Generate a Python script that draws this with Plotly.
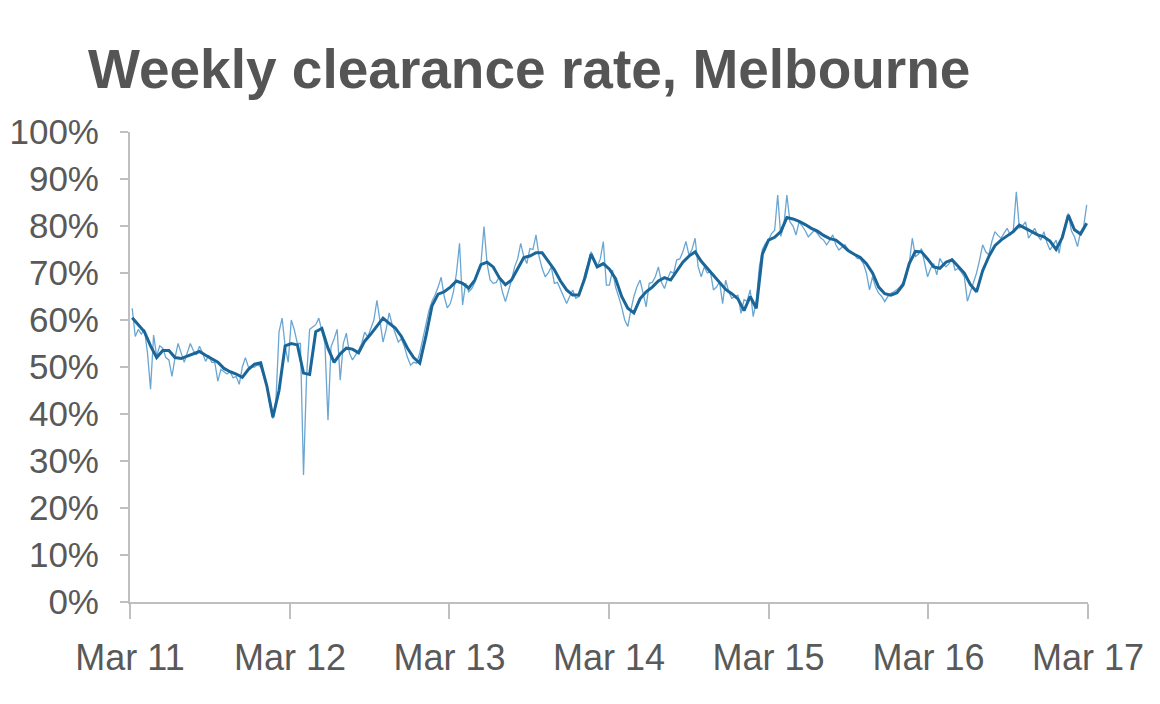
import pandas as pd
import plotly.graph_objects as go

# Weekly clearance rate (%), one value per week from early Mar 2011
weekly_y1 = [62.5, 56.5, 58, 57, 58, 53, 45.3, 56.8, 52.3, 54.5, 54, 52, 51.5, 48, 52, 55, 53, 51, 53, 55,
             53.5, 52.6, 54.4, 53, 51.2, 52.5, 51, 51, 47, 49.5, 49, 48.5, 49, 47.7, 48, 46.3, 50, 52, 50, 50,
             50, 50.5, 50, 48, 46, 42, 39, 43, 57.5, 60.4, 54.4, 51]
weekly_y2 = [60, 57.9, 55, 55, 27, 48, 58, 58.5, 59, 60.4, 58, 55, 38.7, 54.3, 56, 58, 47.2, 55, 57.2, 53,
             51.5, 52.5, 53.6, 55, 57.4, 56.4, 58, 60, 64.2, 60, 55.3, 58, 61.5, 59, 57, 55.3, 56, 54.3, 52, 50.4,
             51, 50.8, 53, 56, 59.3, 62, 64, 65.3, 67, 69.1, 65, 62.6]
weekly_y3 = [63.5, 66, 70, 76.3, 63.2, 67.8, 66, 66.7, 68, 70.6, 72, 79.9, 72, 68.5, 67.8, 68, 69.2, 66, 63.9, 66,
             68.5, 71.3, 73, 76.3, 73.5, 72, 75.2, 75, 78.1, 73.5, 71, 69.2, 70, 71.3, 67.8, 68, 66.4, 65, 63.5, 65,
             66.4, 64.6, 65, 67, 69.9, 72, 74.5, 73, 71.3, 73, 76.7, 67.4]
weekly_y4 = [67.4, 70.6, 67, 65, 62.8, 60, 58.6, 62.1, 65, 67.1, 68.5, 65.7, 62.8, 67.8, 68, 69.2, 71.3, 68, 66.7, 68.8,
             70.3, 70, 72.8, 73, 74.5, 76.7, 73.8, 75, 77.4, 71.3, 69.2, 71.3, 70, 70.3, 66.4, 67, 68.1, 63.5, 68.5, 66,
             64.6, 65, 65.3, 61.4, 64.3, 64, 66.4, 60.7, 64, 71.3, 75, 76.3]
weekly_y5 = [77, 78.4, 79.1, 86.6, 77.8, 80.1, 86.6, 80.9, 80, 78.1, 80.9, 80, 79, 77.7, 78.5, 79.1, 78.4, 77.5, 77, 76,
             77, 78.1, 76, 74.9, 75.5, 76, 75, 74.2, 74, 73.1, 73, 72, 70, 66.4, 69.2, 67, 65.7, 65, 63.9, 65,
             65.7, 66, 66.5, 67.1, 68, 69.2, 72, 77.4, 73.5, 74, 75.2, 72]
weekly_y6 = [69.2, 71, 72, 69.6, 73.1, 72, 71.3, 72, 73.1, 70.6, 71, 70.2, 69.2, 64, 66, 67.8, 70, 72.8, 76, 74.5,
             73.9, 76.7, 78.8, 78, 77.4, 78.5, 79.5, 78.1, 79, 87.3, 79.5, 80, 80.9, 77.4, 78.5, 79.5, 78, 77, 78.8, 76.5,
             74.9, 76, 77, 74.2, 78, 80.2, 82.7, 79, 77.7, 75.6, 78.8, 79.9, 84.5]
weekly = weekly_y1 + weekly_y2 + weekly_y3 + weekly_y4 + weekly_y5 + weekly_y6

# Smoothed (trend) clearance rate (%), one value every two weeks
trend_y1 = [60.5, 59, 57.5, 54.5, 52, 53.5, 53.5, 52, 51.8, 52.3, 52.8, 53.3, 52.5, 51.8, 51, 49.7, 49, 48.5, 47.8, 49.5,
            50.6, 50.9, 46, 39.3, 45, 54.5]
trend_y2 = [55, 54.7, 48.7, 48.4, 57.5, 58.2, 54, 51, 52.8, 54, 53.8, 53, 55.5, 57, 58.8, 60.4, 59.3, 58.3, 56.5, 54,
            52, 50.8, 56.5, 63, 65.5, 66]
trend_y3 = [67, 68.3, 67.8, 66.8, 68.5, 71.8, 72.3, 71.3, 69, 67.5, 68.5, 70.8, 73.3, 73.6, 74.3, 74.3, 72.5, 70.7, 68.3, 66.4,
            65.3, 65.3, 69, 74, 71.3, 72]
trend_y4 = [70.8, 68.8, 65, 62.5, 61.5, 64.5, 66, 67, 68.3, 69, 68.5, 70.3, 72.3, 73.6, 74.5, 72.5, 71, 69.5, 68, 66.5,
            65.6, 64.5, 62, 65, 62.5, 74]
trend_y5 = [77, 77.6, 78.8, 81.8, 81.5, 81, 80.3, 79.5, 78.9, 78, 77.3, 77, 76, 74.8, 74, 73.3, 72, 70, 67, 65.6,
            65.3, 65.8, 67.5, 72, 74.6, 74.5]
trend_y6 = [73, 71.3, 71, 72.3, 72.8, 71.5, 70, 67.5, 66, 70.5, 73.5, 75.8, 77, 77.9, 78.8, 80.2, 79.5, 78.8, 78.1, 77.7,
            76.8, 75, 77.5, 82.3, 79.2, 78.3, 80.6]
trend = trend_y1 + trend_y2 + trend_y3 + trend_y4 + trend_y5 + trend_y6

tick_dates = ["2011-03-01", "2012-03-01", "2013-03-01", "2014-03-01", "2015-03-01", "2016-03-01", "2017-03-01"]
tick_labels = ["Mar 11", "Mar 12", "Mar 13", "Mar 14", "Mar 15", "Mar 16", "Mar 17"]
y_ticks = [0, 10, 20, 30, 40, 50, 60, 70, 80, 90, 100]
y_labels = [f"{v}%" for v in y_ticks]

weekly_dates = pd.date_range("2011-03-06", periods=len(weekly), freq="7D")
trend_dates = pd.date_range("2011-03-06", periods=len(trend), freq="14D")

FONT = "Liberation Sans, Arial, sans-serif"
GREY = "#595959"
AXIS = "#bfbfbf"

fig = go.Figure()
fig.add_trace(go.Scatter(x=weekly_dates, y=weekly, mode="lines",
                         line=dict(color="#6aa6d2", width=1.3), name="Weekly", showlegend=False))
fig.add_trace(go.Scatter(x=trend_dates, y=trend, mode="lines",
                         line=dict(color="#1b6699", width=3), name="Trend", showlegend=False))

fig.update_layout(
    width=1160, height=704,
    margin=dict(l=130, r=72, t=132, b=102, autoexpand=False),
    paper_bgcolor="white", plot_bgcolor="white",
    font=dict(family=FONT, color=GREY),
    title=dict(text="<b>Weekly clearance rate, Melbourne</b>",
               font=dict(family=FONT, size=55, color="#555555"),
               xref="container", yref="container", x=88/1160, xanchor="left",
               y=1 - 69/704, yanchor="middle"),
)
fig.update_xaxes(
    type="date", range=["2011-03-01", "2017-03-01"],
    tickvals=tick_dates, ticktext=tick_labels,
    showgrid=False, zeroline=False, automargin=False,
    showline=True, linecolor=AXIS, linewidth=2,
    ticks="outside", ticklen=15, tickcolor=AXIS, tickwidth=1.5,
    tickfont=dict(family=FONT, size=36, color=GREY), ticklabelstandoff=8,
)
fig.update_yaxes(
    range=[0, 100], tickvals=y_ticks, ticktext=y_labels,
    showgrid=False, zeroline=False, automargin=False,
    showline=True, linecolor=AXIS, linewidth=2,
    ticks="outside", ticklen=8, tickcolor=AXIS, tickwidth=1.5,
    tickfont=dict(family=FONT, size=35, color=GREY), ticklabelstandoff=14,
)

fig.write_html("out.html")
